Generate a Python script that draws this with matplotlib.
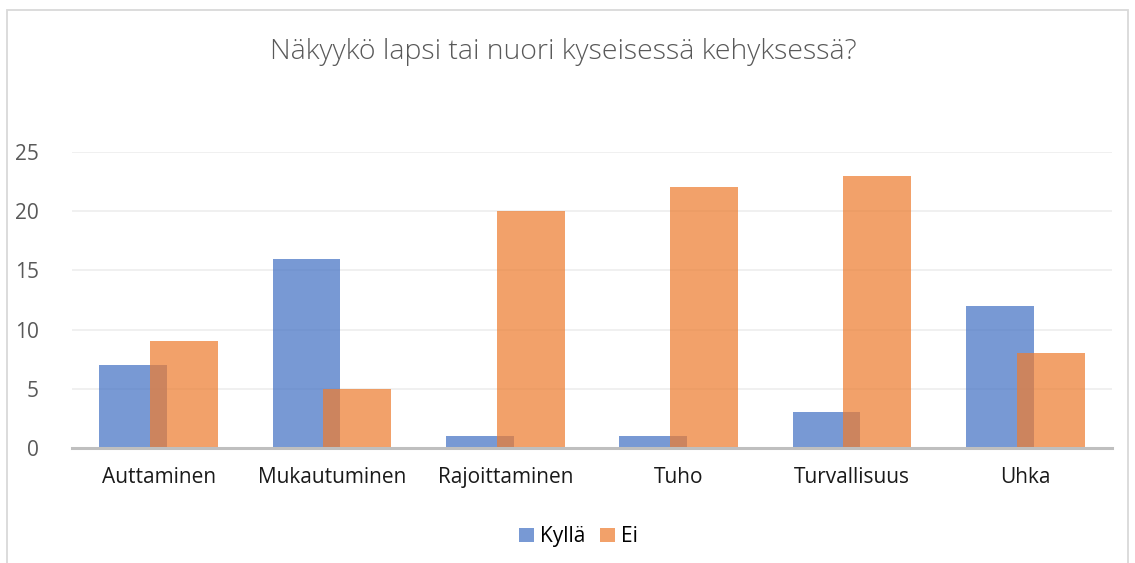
import matplotlib.pyplot as plt
import numpy as np
from matplotlib.patches import Rectangle

plt.rcParams['font.family'] = ['Open Sans', 'DejaVu Sans']

categories = ['Auttaminen', 'Mukautuminen', 'Rajoittaminen', 'Tuho', 'Turvallisuus', 'Uhka']
kylla = [7, 16, 1, 1, 3, 12]
ei = [9, 5, 20, 22, 23, 8]

fig = plt.figure(figsize=(11.35, 5.63), dpi=100)
# chart border
fig.patches.append(Rectangle((7/1135, -0.05), 1121/1135, 1.05 - 10/563, transform=fig.transFigure,
                             fill=False, edgecolor='#d9d9d9', linewidth=1.3))

ax = fig.add_axes([0.0634, 0.2043, 0.9163, 0.5258])
ind = np.arange(len(categories))
width = 0.392
off = 0.147

ax.bar(ind - off, kylla, width, color='#4472C4', alpha=0.72, label='Kyllä', zorder=3)
ax.bar(ind + off, ei, width, color='#ED7D31', alpha=0.72, label='Ei', zorder=3)

ax.set_xlim(-0.5, len(categories) - 0.5)
ax.set_ylim(0, 25)
ax.set_yticks([0, 5, 10, 15, 20, 25])
ax.set_xticks(ind, categories)
ax.grid(axis='y', color='#eeeeee', linewidth=1.2, zorder=0)
for s in ['top', 'right', 'left']:
    ax.spines[s].set_visible(False)
ax.spines['bottom'].set_color('#bfbfbf')
ax.spines['bottom'].set_linewidth(2.2)
ax.spines['bottom'].set_zorder(4)
ax.tick_params(axis='both', length=0, labelsize=15)
ax.tick_params(axis='y', colors='#595959', pad=24)
ax.tick_params(axis='x', colors='#1a1a1a', pad=14)
for lbl in ax.get_yticklabels():
    lbl.set_color('#595959')

fig.text(0.496, 0.907, 'Näkyykö lapsi tai nuori kyseisessä kehyksessä?', ha='center', va='center',
         fontsize=20.5, color='#595959', fontweight='light')

ax.legend(loc='center', bbox_to_anchor=(0.487, -0.3), ncol=2, frameon=False, fontsize=15,
          handlelength=0.7, handleheight=0.7, handletextpad=0.3, columnspacing=0.7)

fig.savefig('out.png', dpi=100)
